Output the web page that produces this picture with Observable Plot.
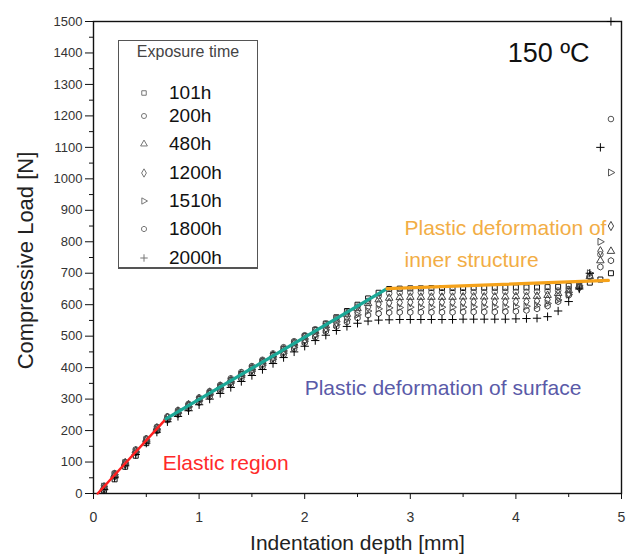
<!DOCTYPE html>
<html>
<head>
<meta charset="utf-8">
<script src="https://cdn.jsdelivr.net/npm/d3@7"></script>
<script src="https://cdn.jsdelivr.net/npm/@observablehq/plot@0.6"></script>
<style>
  html, body { margin: 0; padding: 0; background: #fff; }
  #wrap { position: relative; width: 632px; height: 554px; font-family: "Liberation Sans", Arial, sans-serif; }
  #legend { position: absolute; left: 118px; top: 40px; width: 140px; height: 229px; border: 1px solid #555; border-bottom-width: 2px; background: #fff; box-sizing: border-box; }
  #legend .title { position: absolute; left: 0; width: 100%; top: 2px; text-align: center; font-size: 16px; color: #444; }
  #legend .row { position: absolute; left: 0; height: 24px; display: flex; align-items: center; }
  #legend .row svg { margin-left: 20px; }
  #legend .row span { margin-left: 20px; font-size: 19px; color: #111; }
</style>
</head>
<body>
<div id="wrap"></div>
<script>
// ---------- data ----------
const seriesNames = ["101h", "200h", "480h", "1200h", "1510h", "1800h", "2000h"];
const depth = [0.1,0.2,0.3,0.4,0.5,0.6,0.7,0.8,0.9,1.0,1.1,1.2,1.3,1.4,1.5,1.6,1.7,1.8,1.9,2.0,2.1,2.2,2.3,2.4,2.5,2.6,2.7,2.8,2.9,3.0,3.1,3.2,3.3,3.4,3.5,3.6,3.7,3.8,3.9,4.0,4.1,4.2,4.3,4.4,4.5,4.6,4.7,4.8,4.9];
const load101 = [10,45,85,120,160,200,236,258,280,300,320,340,360,380,400,420,440,460,480,500,520,540,560,580,600,620,638,650,651,652,652,653,653,653,653,654,654,654,654,655,655,655,656,657,660,664,670,680,700];
const load200 = [25,65,100,140,175,212,245,265,285,305,325,345,366,386,405,425,445,465,484,503,522,540,558,576,594,612,628,636,638,639,639,639,640,640,640,640,640,641,641,641,641,642,643,645,650,660,690,760,1190];
const load480 = [20,60,98,136,172,208,242,262,282,302,322,341,361,381,400,420,440,459,478,497,516,534,552,570,588,604,616,621,623,624,624,624,624,624,625,625,625,625,625,626,626,627,630,636,645,660,690,740,770];
const load1200 = [18,57,95,133,170,206,240,259,278,297,316,335,354,374,393,412,431,450,469,488,507,525,543,560,576,592,602,606,607,608,608,608,608,608,608,609,609,609,609,610,610,612,616,624,636,655,690,770,850];
const load1510 = [22,60,97,134,170,205,238,256,275,294,313,332,351,370,389,408,427,446,465,484,502,520,537,553,568,580,587,590,591,592,592,592,592,592,592,593,593,593,593,594,595,598,604,615,632,660,700,800,1020];
const load1800 = [15,54,92,129,165,200,233,251,270,289,308,327,346,365,384,403,422,441,460,479,497,515,531,545,558,567,572,575,576,576,576,576,576,576,577,577,577,577,578,579,582,587,596,610,630,655,690,720,740];
const load2000 = [12,50,88,124,160,195,228,245,263,282,300,318,337,356,375,394,413,432,450,468,486,503,518,531,541,548,551,552,553,553,553,553,553,553,554,554,554,554,554,555,556,557,562,580,610,650,700,1100,1500];
const seriesLoads = [load101, load200, load480, load1200, load1510, load1800, load2000];

// fitted region lines (depth, load end points)
const elasticDepth = [0.04, 0.686];
const elasticLoad = [0, 237];
const surfaceDepth = [0.686, 2.78];
const surfaceLoad = [237, 651];
const innerDepth = [2.78, 4.876];
const innerLoad = [651, 677];

// annotations
const annotText = ["150 ºC", "Plastic deformation of", "inner structure", "Plastic deformation of surface", "Elastic region"];
const annotDepth = [4.31, 2.945, 2.945, 2.0, 0.655];
const annotLoad = [1398, 842, 740, 334, 95];

const xTicks = [0, 1, 2, 3, 4, 5];
const xMinor = [0.5, 1.5, 2.5, 3.5, 4.5];
const yTicks = [0,100,200,300,400,500,600,700,800,900,1000,1100,1200,1300,1400,1500];
const yMinor = [50,150,250,350,450,550,650,750,850,950,1050,1150,1250,1350,1450];

// ---------- styling ----------
const triRight = {draw(ctx, size) {
  const s = Math.sqrt(size / 1.3);
  ctx.moveTo(s * 0.9, 0); ctx.lineTo(-s * 0.55, -s * 0.8); ctx.lineTo(-s * 0.55, s * 0.8); ctx.closePath();
}};
const hexagon = {draw(ctx, size) {
  const r = Math.sqrt(size / 2.6);
  for (let i = 0; i < 6; i++) {
    const a = Math.PI / 3 * i + Math.PI / 6;
    if (i === 0) ctx.moveTo(r * Math.cos(a), r * Math.sin(a)); else ctx.lineTo(r * Math.cos(a), r * Math.sin(a));
  }
  ctx.closePath();
}};
const symbols = [d3.symbolSquare, d3.symbolCircle, d3.symbolTriangle, d3.symbolDiamond, triRight, hexagon, d3.symbolPlus];
const colors = ["#111", "#555", "#444", "#444", "#555", "#444", "#000"];

const rows = [];
seriesNames.forEach((s, i) => {
  seriesLoads[i].forEach((v, j) => { if (v != null) rows.push({series: s, depth: depth[j], load: v}); });
});
const seg = (d, l) => d.map((x, i) => ({depth: x, load: l[i]}));
const annots = annotText.map((t, i) => ({text: t, depth: annotDepth[i], load: annotLoad[i]}));
const annotColor = ["#111", "#f2ad45", "#f2ad45", "#5a5aa8", "#ff2a2a"];
const annotSize = [27, 21, 21, 21, 21];
const annotAnchor = ["middle", "start", "start", "start", "start"];

const font = "Liberation Sans, Arial, sans-serif";
const chart = Plot.plot({
  width: 632, height: 554,
  marginLeft: 93, marginRight: 11, marginTop: 21, marginBottom: 61,
  style: {fontFamily: font, background: "white", color: "#222"},
  x: {domain: [0, 5]},
  y: {domain: [0, 1500]},
  symbol: {domain: seriesNames, range: symbols},
  color: {domain: seriesNames, range: colors},
  marks: [
    Plot.axisX(xTicks, {tickSize: 6, tickPadding: 13, fontSize: 14, label: null, stroke: "#111", fill: "#333", tickFormat: d3.format("d")}),
    Plot.axisX(xMinor, {tickSize: 4, tickFormat: () => "", label: null, stroke: "#111"}),
    Plot.axisY(yTicks, {tickSize: 8, tickPadding: 3, fontSize: 13, label: null, stroke: "#111", fill: "#333", tickFormat: d3.format("d")}),
    Plot.axisY(yMinor, {tickSize: 4, tickFormat: () => "", label: null, stroke: "#111"}),
    Plot.frame({stroke: "#111", strokeWidth: 1.4}),
    Plot.dot(rows, {x: "depth", y: "load", symbol: "series", stroke: "series", r: 2.8, strokeWidth: 1}),
    Plot.line(seg(elasticDepth, elasticLoad), {x: "depth", y: "load", stroke: "#ff2020", strokeWidth: 2.5}),
    Plot.line(seg(surfaceDepth, surfaceLoad), {x: "depth", y: "load", stroke: "#1aa897", strokeWidth: 3.2}),
    Plot.line(seg(innerDepth, innerLoad), {x: "depth", y: "load", stroke: "#f5a21a", strokeWidth: 3.2}),
    ...annots.map((a, i) => Plot.text([a], {x: "depth", y: "load", text: "text", fill: annotColor[i], fontSize: annotSize[i], textAnchor: annotAnchor[i]})),
    Plot.text(["Indentation depth [mm]"], {frameAnchor: "bottom", dy: 50, lineAnchor: "middle", textAnchor: "middle", fontSize: 21, fill: "#222"}),
    Plot.text(["Compressive Load [N]"], {frameAnchor: "left", dx: -68, dy: 3, rotate: -90, textAnchor: "middle", lineAnchor: "middle", fontSize: 22, fill: "#222"})
  ]
});

const wrap = document.getElementById("wrap");
wrap.appendChild(chart);

// legend overlay
const legend = document.createElement("div");
legend.id = "legend";
legend.innerHTML = '<div class="title">Exposure time</div>';
const rowTops = [40, 63, 91, 120, 148, 176, 205];
seriesNames.forEach((s, i) => {
  const row = document.createElement("div");
  row.className = "row";
  row.style.top = rowTops[i] + "px";
  const path = d3.symbol().type(symbols[i]).size(20)();
  row.innerHTML = `<svg width="10" height="10" viewBox="-5 -5 10 10"><path d="${path}" fill="none" stroke="#777" stroke-width="1"/></svg><span>${s}</span>`;
  legend.appendChild(row);
});
wrap.appendChild(legend);
</script>
</body>
</html>
